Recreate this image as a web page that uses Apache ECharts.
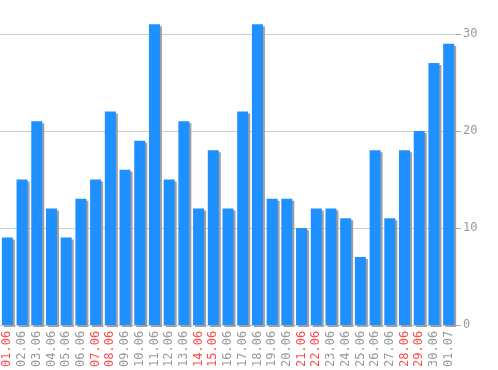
<!DOCTYPE html>
<html><head><meta charset="utf-8">
<script src="https://cdn.jsdelivr.net/npm/echarts@6/dist/echarts.min.js"></script>
<style>html,body{margin:0;padding:0;background:#fff}#c{width:498px;height:370px}</style>
</head><body><div id="c"></div>
<script>
var categories = ['01.06','02.06','03.06','04.06','05.06','06.06','07.06','08.06','09.06','10.06','11.06','12.06','13.06','14.06','15.06','16.06','17.06','18.06','19.06','20.06','21.06','22.06','23.06','24.06','25.06','26.06','27.06','28.06','29.06','30.06','01.07'];
var values = [9,15,21,12,9,13,15,22,16,19,31,15,21,12,18,12,22,31,13,13,10,12,12,11,7,18,11,18,20,27,29];
var weekends = ['01.06','07.06','08.06','14.06','15.06','21.06','22.06','28.06','29.06'];
var yTicks = [0,10,20,30];

var chart = echarts.init(document.getElementById('c'), null, {renderer:'canvas'});
chart.setOption({
  animation:false,
  backgroundColor:'#fff',
  grid:{left:-3, right:42, top:34, bottom:45},
  xAxis:{
    type:'category', data:categories,
    axisLine:{show:false}, axisTick:{show:false},
    axisLabel:{
      rotate:90, margin:6, interval:0,
      fontFamily:'DejaVu Sans Mono', fontSize:12,
      formatter:function(v){ return weekends.indexOf(v)>=0 ? '{r|'+v+'}' : '{g|'+v+'}'; },
      rich:{ r:{color:'#ff4d4d', fontFamily:'DejaVu Sans Mono', fontSize:12}, g:{color:'#999', fontFamily:'DejaVu Sans Mono', fontSize:12} }
    }
  },
  yAxis:{
    type:'value', position:'right', min:0, max:yTicks[yTicks.length-1], interval:10,
    axisLine:{show:false},
    axisTick:{show:true, length:5, lineStyle:{color:'#aaa'}},
    axisLabel:{color:'#999', fontFamily:'DejaVu Sans Mono', fontSize:12, margin:7},
    splitLine:{lineStyle:{color:'#ccc'}}
  },
  series:[{
    type:'bar', data:values, barWidth:11, clip:false,
    itemStyle:{color:'#1e90ff', borderWidth:0, shadowColor:'#a0a0a0', shadowOffsetX:2, shadowOffsetY:2, shadowBlur:0}
  }]
});
</script></body></html>
